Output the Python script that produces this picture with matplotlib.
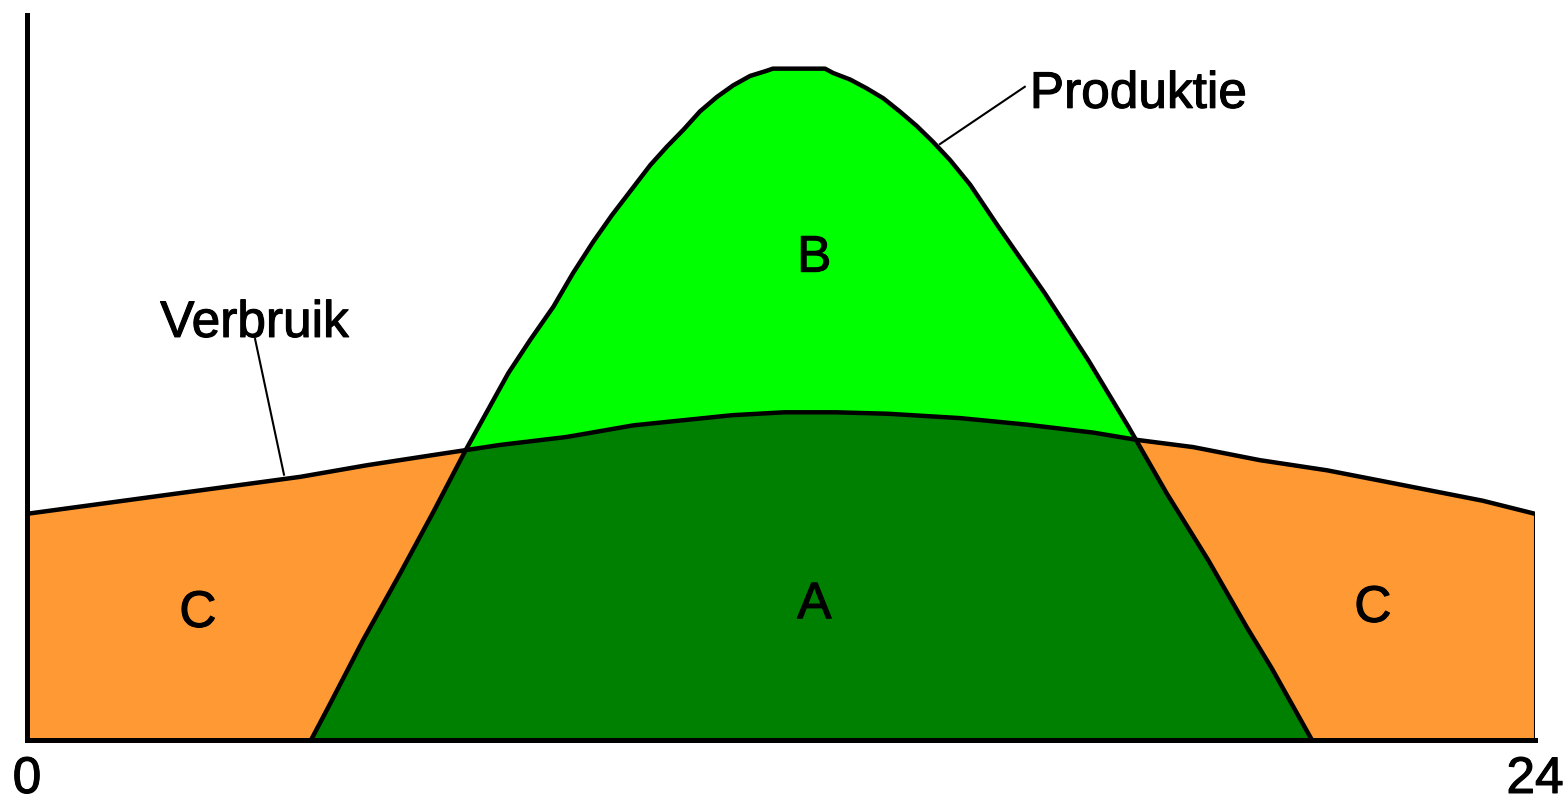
import numpy as np
import matplotlib
matplotlib.use("Agg")
import matplotlib.pyplot as plt
import matplotlib.patheffects as pe

plt.rcParams['font.family'] = ['Liberation Sans', 'DejaVu Sans']

# Verbruik (consumption): hour -> level
verbruik_uur = [0, 4.35, 5.41, 6.46, 7.53, 8.59, 9.65, 11.22, 12.05, 12.88, 13.7,
                14.85, 15.91, 16.97, 17.66, 18.56, 19.62, 20.69, 21.58, 23.17, 24]
verbruik = [31.2, 36.3, 37.9, 39.3, 40.7, 41.8, 43.4, 44.8, 45.2, 45.2, 45.0,
            44.4, 43.5, 42.4, 41.4, 40.4, 38.6, 37.2, 35.7, 33.0, 31.2]

# Produktie (production): hour -> level
produktie_uur = [4.52, 4.80, 5.35, 5.94, 6.47, 6.97, 7.66, 8.01, 8.38, 8.69, 9.01,
                 9.31, 9.92, 10.18, 10.45, 10.71, 10.98, 11.24, 11.51, 11.77, 11.87,
                 12.29, 12.70, 12.83, 13.10, 13.36, 13.63, 13.89, 14.16, 14.42, 14.69,
                 15.01, 15.46, 16.20, 16.89, 17.53, 18.14, 18.80, 19.41, 19.81, 20.45]
produktie = [0, 4.6, 13.8, 23.0, 31.5, 39.8, 50.6, 55.2, 59.8, 64.4, 68.7,
             72.4, 79.3, 81.8, 84.2, 86.7, 88.7, 90.3, 91.6, 92.3, 92.6,
             92.6, 92.6, 92.0, 91.1, 89.9, 88.5, 86.7, 84.7, 82.5, 80.0,
             76.6, 70.8, 61.6, 52.4, 43.2, 34.0, 24.8, 15.6, 9.9, 0]

# Region labels
vlak_labels = ['A', 'B', 'C', 'C']
vlak_x = [12.53, 12.53, 2.72, 21.42]
vlak_y = [16.8, 64.6, 15.6, 16.3]

as_labels = ['0', '24']
as_ticks = [0, 24]

W, H = 1563, 798
fig = plt.figure(figsize=(W / 100, H / 100), dpi=100)
ax = fig.add_axes([27 / W, (H - 740) / H, 1508 / W, 725 / H])
ax.set_xlim(0, 24)
ax.set_ylim(0, 100)

grid = np.linspace(0, 24, 4801)
C = np.interp(grid, verbruik_uur, verbruik)
P = np.interp(grid, produktie_uur, produktie, left=0, right=0)
low = np.minimum(P, C)

col_A = '#008000'
col_B = '#00FF00'
col_C = '#FF9933'

ax.fill_between(grid, 0, low, color=col_A, lw=0, zorder=1)
ax.fill_between(grid, C, P, where=P >= C, color=col_B, lw=0, zorder=1, interpolate=True)
ax.fill_between(grid, P, C, where=C >= P, color=col_C, lw=0, zorder=1, interpolate=True)

ax.plot(verbruik_uur, verbruik, color='black', lw=3.2, zorder=3, solid_capstyle='butt',
        solid_joinstyle='round')
ax.plot(produktie_uur, produktie, color='black', lw=3.2, zorder=3, solid_capstyle='butt',
        solid_joinstyle='round')
ax.plot([24, 24], [0, verbruik[-1]], color='black', lw=2.2, zorder=3)

# leader lines
ax.plot([3.63, 4.09], [55.3, 36.6], color='black', lw=1.5, zorder=3)
ax.plot([15.88, 14.53], [90.1, 82.2], color='black', lw=1.5, zorder=3)

fs = 37
thick = [pe.withStroke(linewidth=0.8, foreground='black')]
ax.text(2.12, 55.6, 'Verbruik', fontsize=fs, ha='left', va='baseline', zorder=4,
        path_effects=thick)
ax.text(15.96, 87.2, 'Produktie', fontsize=fs, ha='left', va='baseline', zorder=4,
        path_effects=thick)
for lab, x, y in zip(vlak_labels, vlak_x, vlak_y):
    ax.text(x, y, lab, fontsize=fs, ha='center', va='baseline', zorder=4,
            path_effects=thick)

for lab, x in zip(as_labels, as_ticks):
    ax.text(x, -7.3, lab, fontsize=fs, ha='center', va='baseline', clip_on=False,
            path_effects=thick)

ax.set_xticks([])
ax.set_yticks([])
for s in ['top', 'right']:
    ax.spines[s].set_visible(False)
for s in ['left', 'bottom']:
    ax.spines[s].set_linewidth(3.6)
    ax.spines[s].set_color('black')
    ax.spines[s].set_zorder(5)
ax.patch.set_alpha(0)

fig.savefig('out.png', dpi=100)
